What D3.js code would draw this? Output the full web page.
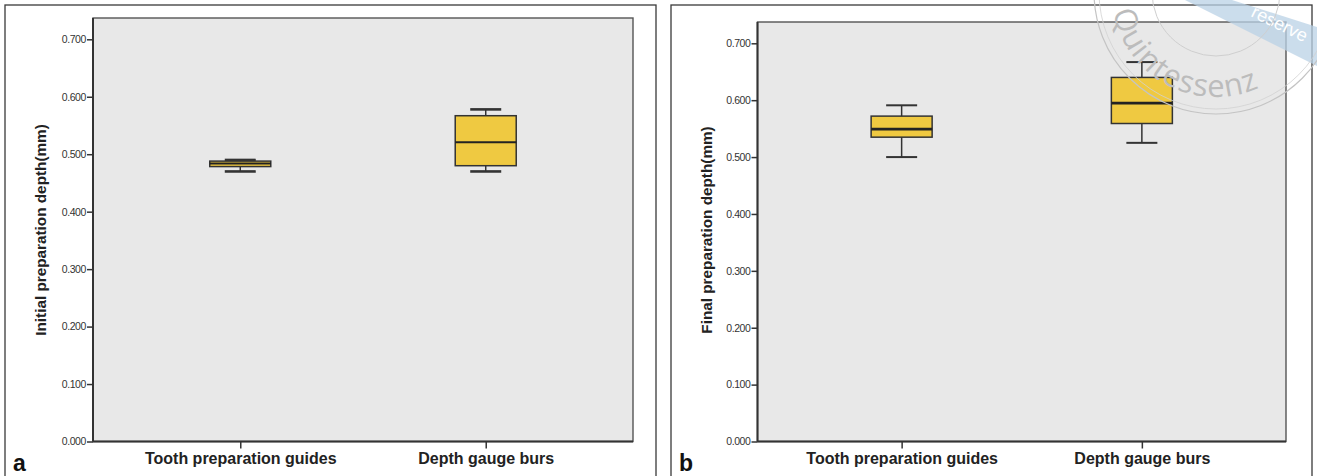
<!DOCTYPE html>
<html>
<head>
<meta charset="utf-8">
<script src="https://cdn.jsdelivr.net/npm/d3@7"></script>
<style>
  body { margin: 0; background: #fff; }
  svg { display: block; font-family: "Liberation Sans", Arial, sans-serif; }
</style>
</head>
<body>
<script>
var width = 1317;
var height = 476;

var categories = ["Tooth preparation guides", "Depth gauge burs"];
var yTicks = [0, 0.1, 0.2, 0.3, 0.4, 0.5, 0.6, 0.7];

// panel a - initial depth
var initialLow = [0.470, 0.470];
var initialQ1 = [0.4785, 0.480];
var initialMedian = [0.484, 0.521];
var initialQ3 = [0.488, 0.567];
var initialHigh = [0.490, 0.578];

// panel b - final depth
var finalLow = [0.500, 0.525];
var finalQ1 = [0.535, 0.559];
var finalMedian = [0.549, 0.595];
var finalQ3 = [0.572, 0.640];
var finalHigh = [0.591, 0.667];

var svg = d3.select("body")
  .append("svg")
  .attr("width", width)
  .attr("height", height);

function buildRows(low, q1, med, q3, high) {
  return categories.map(function(c, i) {
    return {cat: c, low: low[i], q1: q1[i], med: med[i], q3: q3[i], high: high[i]};
  });
}

function panel(opts) {
  var g = svg.append("g");

  // outer frame
  g.append("rect")
    .attr("x", opts.frame[0]).attr("y", opts.frame[1])
    .attr("width", opts.frame[2] - opts.frame[0])
    .attr("height", height + 10 - opts.frame[1])
    .attr("fill", "none")
    .attr("stroke", "#3a3a3a")
    .attr("stroke-width", 1.3);

  var yScale = d3.scaleLinear()
    .domain([0, 0.7])
    .range([opts.bottom, opts.y07]);

  var xScale = d3.scalePoint()
    .domain(categories)
    .range([opts.left, opts.right])
    .padding(0.6);

  // plot background
  g.append("rect")
    .attr("x", opts.left).attr("y", opts.top)
    .attr("width", opts.right - opts.left)
    .attr("height", opts.bottom - opts.top)
    .attr("fill", "#e8e8e8")
    .attr("stroke", "#555")
    .attr("stroke-width", 1.4);

  var yAxis = g.append("g")
    .attr("transform", `translate(${opts.left},0)`)
    .call(d3.axisLeft(yScale).tickValues(yTicks).tickFormat(d3.format(".3f")).tickSize(6).tickSizeOuter(0));
  yAxis.select(".domain").attr("stroke", "#333").attr("stroke-width", 2)
    .attr("d", `M0,${opts.top}V${opts.bottom}`);
  yAxis.selectAll(".tick line").attr("stroke", "#333").attr("stroke-width", 1.5);
  yAxis.selectAll(".tick text")
    .attr("x", -7)
    .attr("font-size", "10.5px")
    .attr("fill", "#333")
    .attr("letter-spacing", "-0.4px")
    .attr("font-family", "Liberation Sans, Arial, sans-serif");

  var xAxis = g.append("g")
    .attr("transform", `translate(0,${opts.bottom})`)
    .call(d3.axisBottom(xScale).tickSize(7).tickSizeOuter(0));
  xAxis.select(".domain").attr("stroke", "#333").attr("stroke-width", 2)
    .attr("d", `M${opts.left},0H${opts.right}`);
  xAxis.selectAll(".tick line").attr("stroke", "#333").attr("stroke-width", 1.5);
  xAxis.selectAll(".tick text")
    .attr("y", 11)
    .attr("dy", "0.71em")
    .attr("font-size", "16px")
    .attr("font-weight", "bold")
    .attr("fill", "#222")
    .attr("font-family", "Liberation Sans, Arial, sans-serif");

  // y label
  g.append("text")
    .attr("transform", `translate(${opts.labelX},230) rotate(-90)`)
    .attr("text-anchor", "middle")
    .attr("font-size", "15.3px")
    .attr("font-weight", "bold")
    .attr("fill", "#222")
    .text(opts.yLabel);

  // panel letter
  g.append("text")
    .attr("x", opts.frame[0] + opts.letterDx)
    .attr("y", 471)
    .attr("font-size", "23px")
    .attr("font-weight", "bold")
    .attr("fill", "#111")
    .text(opts.letter);

  var boxW = 61, capW = 31;
  var boxes = g.selectAll(".box")
    .data(opts.rows)
    .enter()
    .append("g")
    .attr("class", "box");

  boxes.append("line")
    .attr("x1", function(d) { return xScale(d.cat); })
    .attr("x2", function(d) { return xScale(d.cat); })
    .attr("y1", function(d) { return yScale(d.high); })
    .attr("y2", function(d) { return yScale(d.low); })
    .attr("stroke", "#333").attr("stroke-width", 1.5);

  boxes.selectAll(".cap")
    .data(function(d) { return [{cat: d.cat, v: d.low}, {cat: d.cat, v: d.high}]; })
    .enter()
    .append("line")
    .attr("x1", function(d) { return xScale(d.cat) - capW / 2; })
    .attr("x2", function(d) { return xScale(d.cat) + capW / 2; })
    .attr("y1", function(d) { return yScale(d.v); })
    .attr("y2", function(d) { return yScale(d.v); })
    .attr("stroke", "#333").attr("stroke-width", opts.capWidth);

  boxes.append("rect")
    .attr("x", function(d) { return xScale(d.cat) - boxW / 2; })
    .attr("y", function(d) { return yScale(d.q3); })
    .attr("width", boxW)
    .attr("height", function(d) { return yScale(d.q1) - yScale(d.q3); })
    .attr("fill", "#efc941")
    .attr("stroke", "#333")
    .attr("stroke-width", 1.5);

  boxes.append("line")
    .attr("x1", function(d) { return xScale(d.cat) - boxW / 2; })
    .attr("x2", function(d) { return xScale(d.cat) + boxW / 2; })
    .attr("y1", function(d) { return yScale(d.med); })
    .attr("y2", function(d) { return yScale(d.med); })
    .attr("stroke", "#222").attr("stroke-width", opts.medWidth);
}

panel({
  frame: [5, 5, 656],
  left: 93, right: 633, top: 18, bottom: 441.5, y07: 39.3,
  labelX: 46, yLabel: "Initial preparation depth(mm)",
  letter: "a", letterDx: 8,
  capWidth: 2.6, medWidth: 2,
  rows: buildRows(initialLow, initialQ1, initialMedian, initialQ3, initialHigh)
});

panel({
  frame: [671, 5, 1312],
  left: 757.5, right: 1286, top: 22, bottom: 441.5, y07: 43.3,
  labelX: 712, yLabel: "Final preparation depth(mm)",
  letter: "b", letterDx: 8,
  capWidth: 2, medWidth: 2.8,
  rows: buildRows(finalLow, finalQ1, finalMedian, finalQ3, finalHigh)
});

// watermark stamp, top right
var wm = svg.append("g").attr("pointer-events", "none");
wm.append("path")
  .attr("d", "M1185,0 L1232,0 L1317,27 L1317,66 Z")
  .attr("fill", "#b9d2e6")
  .attr("opacity", 0.75);
wm.append("text")
  .attr("transform", "translate(1250,16) rotate(26)")
  .attr("font-size", "18px")
  .attr("fill", "#fff")
  .text("reserve");
wm.append("circle")
  .attr("cx", 1216).attr("cy", -8).attr("r", 122)
  .attr("fill", "none").attr("stroke", "#c4c4c4").attr("stroke-width", 1.2);
wm.append("circle")
  .attr("cx", 1216).attr("cy", -8).attr("r", 117)
  .attr("fill", "none").attr("stroke", "#d2d2d2").attr("stroke-width", 0.8);
wm.append("circle")
  .attr("cx", 1216).attr("cy", -8).attr("r", 64)
  .attr("fill", "none").attr("stroke", "#cfcfcf").attr("stroke-width", 1);
wm.append("path")
  .attr("id", "stampArc")
  .attr("d", "M1111,-8 A105,105 0 0,0 1321,-8")
  .attr("fill", "none");
wm.append("text")
  .attr("font-size", "31px")
  .attr("font-family", "Open Sans, sans-serif")
  .attr("fill", "#bcbcbc")
  .attr("letter-spacing", "1px")
  .append("textPath")
  .attr("href", "#stampArc")
  .attr("startOffset", "20")
  .text("Quintessenz");
</script>
</body>
</html>
